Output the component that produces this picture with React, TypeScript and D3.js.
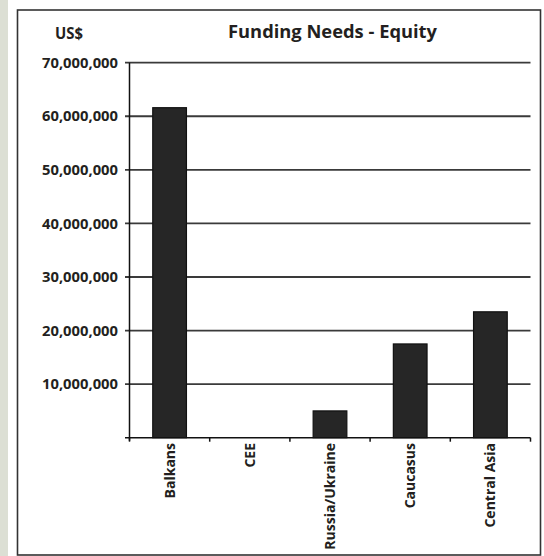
import React from "react";
import * as d3 from "d3";

const categories = ["Balkans", "CEE", "Russia/Ukraine", "Caucasus", "Central Asia"];
const values = [61600000, 0, 5000000, 17500000, 23500000];
const yTicks = [10000000, 20000000, 30000000, 40000000, 50000000, 60000000, 70000000];
const titleText = "Funding Needs - Equity";
const unitText = "US$";

export default function App() {
  const W = 544, H = 556;
  const x0 = 129.5, x1 = 530.5;
  const y0 = 437.7, y1 = 62.7;
  const x = d3.scaleBand<string>().domain(categories).range([x0, x1]).paddingInner(0.58).paddingOuter(0.29);
  const y = d3.scaleLinear().domain([0, 70000000]).range([y0, y1]);
  const step = x.step();
  const fmt = d3.format(",");
  const font = "'Open Sans', 'Noto Sans', sans-serif";
  return (
    <svg width={W} height={H} style={{ position: "absolute", left: 0, top: 0 }} fontFamily={font}>
      <rect x={0} y={0} width={W} height={H} fill="#ffffff" />
      <rect x={0} y={0} width={8} height={H} fill="#dcdfd4" />
      <rect x={17.5} y={10} width={523} height={545} fill="none" stroke="#333" strokeWidth={1.6} />
      <text x={69} y={38.5} textAnchor="middle" fontSize={16} fontWeight={700} fill="#231f20" textLength={28} lengthAdjust="spacingAndGlyphs">{unitText}</text>
      <text x={332.5} y={38} textAnchor="middle" fontSize={17.5} fontWeight={700} fill="#231f20" textLength={209} lengthAdjust="spacingAndGlyphs">{titleText}</text>
      {yTicks.map((t) => (
        <g key={t}>
          <line x1={x0 - 4.5} x2={x1} y1={y(t)} y2={y(t)} stroke="#3a3a3a" strokeWidth={1.8} />
          <text x={118} y={y(t)} dy="0.36em" textAnchor="end" fontSize={14.5} fontWeight={700} fill="#231f20" textLength={76} lengthAdjust="spacingAndGlyphs">{fmt(t)}</text>
        </g>
      ))}
      {categories.map((c, i) => (
        values[i] > 0 ? (
          <rect key={c} x={x(c)!} y={y(values[i])} width={x.bandwidth()} height={y0 - y(values[i])} fill="#262626" stroke="#111" strokeWidth={1.2} />
        ) : null
      ))}
      <line x1={x0} x2={x0} y1={y1} y2={y0 + 3} stroke="#111" strokeWidth={1.5} />
      <line x1={x0 - 4.5} x2={x1} y1={y0} y2={y0} stroke="#111" strokeWidth={1.5} />
      {d3.range(categories.length + 1).map((i) => (
        <line key={i} x1={x0 + i * step} x2={x0 + i * step} y1={y0} y2={y0 + 4} stroke="#111" strokeWidth={1.5} />
      ))}
      {categories.map((c) => (
        <text key={c} transform={`translate(${x(c)! + x.bandwidth() / 2},443) rotate(-90)`} dy="0.36em" textAnchor="end" fontSize={14} fontWeight={700} fill="#231f20">{c}</text>
      ))}
    </svg>
  );
}
